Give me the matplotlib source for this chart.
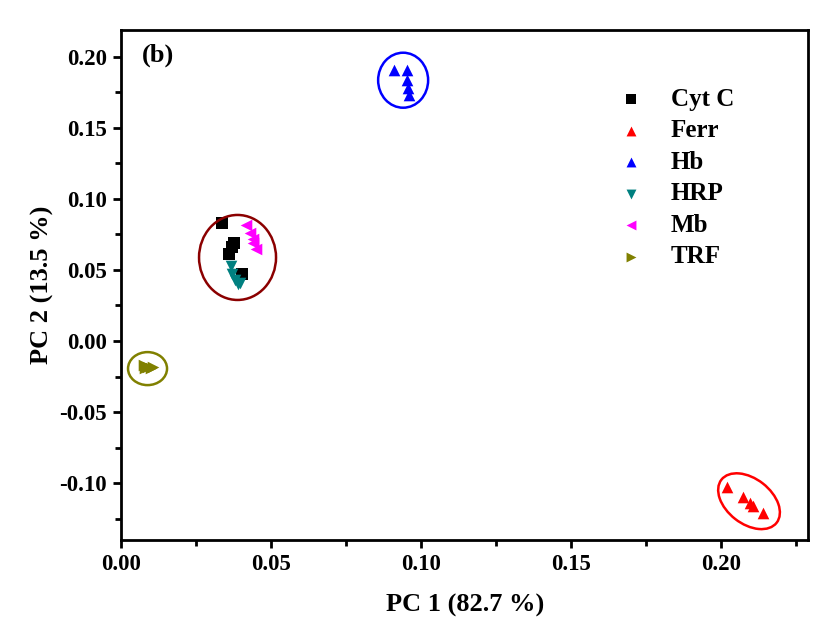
import numpy as np
import matplotlib
matplotlib.use("Agg")
import matplotlib.pyplot as plt
from matplotlib.patches import Ellipse
from matplotlib import transforms

plt.rcParams["font.family"] = ["Liberation Serif", "DejaVu Serif"]
plt.rcParams["font.weight"] = "bold"

# --- PCA scores -------------------------------------------------------
cytc_x = [0.0337, 0.0375, 0.0368, 0.0360, 0.0402]
cytc_y = [0.0830, 0.0690, 0.0660, 0.0610, 0.0470]
ferr_x = [0.2020, 0.2073, 0.2095, 0.2107, 0.2140]
ferr_y = [-0.1030, -0.1100, -0.1140, -0.1160, -0.1210]
hb_x = [0.0910, 0.0953, 0.0953, 0.0957, 0.0958]
hb_y = [0.1910, 0.1910, 0.1840, 0.1780, 0.1730]
hrp_x = [0.0365, 0.0370, 0.0380, 0.0390, 0.0395]
hrp_y = [0.0530, 0.0470, 0.0430, 0.0400, 0.0410]
mb_x = [0.0415, 0.0430, 0.0438, 0.0440, 0.0448]
mb_y = [0.0815, 0.0760, 0.0720, 0.0690, 0.0650]
trf_x = [0.0075, 0.0080, 0.0090, 0.0100, 0.0105]
trf_y = [-0.0170, -0.0190, -0.0180, -0.0190, -0.0180]

groups = [
    ("Cyt C", cytc_x, cytc_y, "s", "black"),
    ("Ferr", ferr_x, ferr_y, "^", "red"),
    ("Hb", hb_x, hb_y, "^", "blue"),
    ("HRP", hrp_x, hrp_y, "v", "#008080"),
    ("Mb", mb_x, mb_y, "<", "magenta"),
    ("TRF", trf_x, trf_y, ">", "#808000"),
]

# cluster rings: centre (data), width/height in inches, angle, colour
ring_x = [0.0388, 0.0940, 0.2093, 0.0088]
ring_y = [0.0588, 0.1835, -0.1127, -0.0194]
ring_w = [0.77, 0.50, 0.70, 0.39]
ring_h = [0.85, 0.55, 0.45, 0.33]
ring_angle = [0, 0, -38, 0]
ring_color = ["#8B0000", "blue", "red", "#808000"]

fig = plt.figure(figsize=(8.13, 6.2), dpi=100)
ax = fig.add_axes([0.149, 0.129, 0.845, 0.823])

for name, xs, ys, mk, col in groups:
    ax.scatter(xs, ys, marker=mk, color=col, s=70, linewidths=0,
               label=name, zorder=3)

for cx, cy, w, h, a, c in zip(ring_x, ring_y, ring_w, ring_h,
                              ring_angle, ring_color):
    tr = fig.dpi_scale_trans + transforms.ScaledTranslation(cx, cy, ax.transData)
    ax.add_patch(Ellipse((0, 0), w, h, angle=a, fill=False, edgecolor=c,
                         linewidth=1.8, transform=tr, zorder=4))

ax.set_xlim(0, 0.229)
ax.set_ylim(-0.140, 0.219)
ax.set_xticks(np.arange(0, 0.201, 0.05))
ax.set_xticks(np.arange(0.025, 0.23, 0.05), minor=True)
ax.set_yticks(np.arange(-0.10, 0.201, 0.05))
ax.set_yticks(np.arange(-0.125, 0.22, 0.05), minor=True)
ax.set_xticklabels([f"{v:.2f}" for v in np.arange(0, 0.201, 0.05)])
ax.set_yticklabels([f"{v:.2f}" for v in np.arange(-0.10, 0.201, 0.05)])

for s in ax.spines.values():
    s.set_linewidth(2)
ax.tick_params(which="major", direction="out", length=6, width=2,
               labelsize=16.5, top=False, right=False, pad=4)
ax.tick_params(which="minor", direction="out", length=4, width=2,
               top=False, right=False)

ax.set_xlabel("PC 1 (82.7 %)", fontsize=19, fontweight="bold", labelpad=14)
ax.set_ylabel("PC 2 (13.5 %)", fontsize=19, fontweight="bold", labelpad=4)
ax.text(0.03, 0.95, "(b)", transform=ax.transAxes, fontsize=19,
        fontweight="bold", va="center")

ax.legend(loc="upper left", bbox_to_anchor=(0.68, 0.93), frameon=False,
          markerscale=0.85, handletextpad=0.8, labelspacing=0.34,
          handlelength=1.6, prop={"weight": "bold", "size": 18})

fig.savefig("out.png", dpi=100)
